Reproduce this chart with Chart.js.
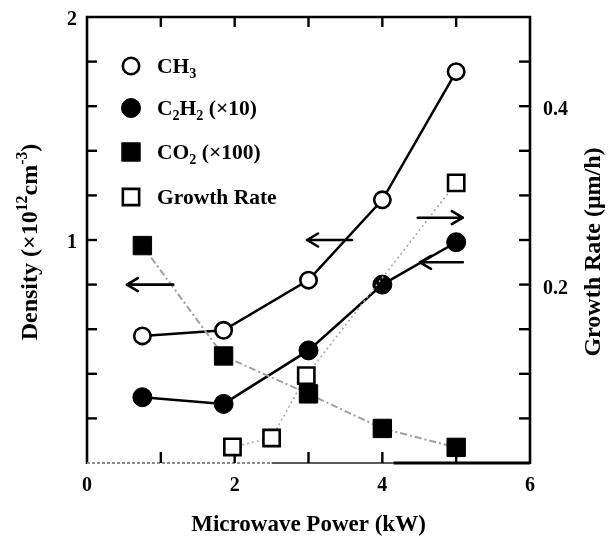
<!DOCTYPE html>
<html>
<head>
<meta charset="utf-8">
<script src="https://cdn.jsdelivr.net/npm/chart.js@4.4.0/dist/chart.umd.min.js"></script>
<style>
  html, body { margin: 0; padding: 0; background: #fff; }
  canvas { display: block; }
</style>
</head>
<body>
<canvas id="chart" width="615" height="538"></canvas>
<script>
// Microwave power (kW) at which the gas densities were measured
const powerKW = [0.75, 1.85, 3.0, 4.0, 5.0];
// Densities in units of 1e12 cm^-3 (C2H2 scaled x10, CO2 scaled x100)
const ch3Density = [0.57, 0.595, 0.82, 1.18, 1.755];
const c2h2Density = [0.295, 0.265, 0.505, 0.80, 0.99];
const co2Density = [0.975, 0.48, 0.31, 0.155, 0.07];
// Diamond growth rate (um/h) versus power
const growthPower = [1.97, 2.5, 2.97, 5.0];
const growthRate = [0.018, 0.028, 0.098, 0.314];
// Labelled ticks on each axis
const xTickLabels = [0, 2, 4, 6];
const densityTickLabels = [1, 2];
const growthTickLabels = [0.2, 0.4];

const SERIF = '"Liberation Serif", "Times New Roman", Times, serif';
const boldFont = size => `bold ${size}px ${SERIF}`;

const toPoints = (xs, ys) => ys.map((v, i) => ({ x: xs[i], y: v }));

// Text with sub/superscript runs: parts = [[text, mode]], mode 1 = sup, -1 = sub
function drawRich(ctx, parts, x, y, size, align) {
  ctx.textBaseline = 'alphabetic';
  ctx.textAlign = 'left';
  const small = size * 0.66;
  const widths = parts.map(([t, m]) => {
    ctx.font = boldFont(m ? small : size);
    return ctx.measureText(t).width;
  });
  const total = widths.reduce((a, b) => a + b, 0);
  let cx = align === 'center' ? x - total / 2 : x;
  const base = y + size * 0.33;
  parts.forEach(([t, m], i) => {
    ctx.font = boldFont(m ? small : size);
    const dy = m === 1 ? -size * 0.40 : m === -1 ? size * 0.24 : 0;
    ctx.fillText(t, cx, base + dy);
    cx += widths[i];
  });
}

const datasets = [
  {
    label: 'CO2 (x100)',
    data: toPoints(powerKW, co2Density),
    yAxisID: 'y',
    showLine: true,
    borderColor: '#a0a0a0',
    borderWidth: 2,
    borderDash: [7, 3, 2, 3],
    pointStyle: 'rect',
    pointRadius: 13,
    pointBackgroundColor: '#000',
    pointBorderColor: '#000',
    pointBorderWidth: 1
  },
  {
    label: 'Growth Rate',
    data: toPoints(growthPower, growthRate),
    yAxisID: 'y2',
    showLine: true,
    borderColor: '#a8a8a8',
    borderWidth: 1.6,
    borderDash: [2, 3],
    pointStyle: 'rect',
    pointRadius: 11.5,
    pointBackgroundColor: '#fff',
    pointBorderColor: '#000',
    pointBorderWidth: 2.6
  },
  {
    label: 'C2H2 (x10)',
    data: toPoints(powerKW, c2h2Density),
    yAxisID: 'y',
    showLine: true,
    borderColor: '#000',
    borderWidth: 2.5,
    pointStyle: 'circle',
    pointRadius: 9.5,
    pointBackgroundColor: '#000',
    pointBorderColor: '#000',
    pointBorderWidth: 1
  },
  {
    label: 'CH3',
    data: toPoints(powerKW, ch3Density),
    yAxisID: 'y',
    showLine: true,
    borderColor: '#000',
    borderWidth: 2.5,
    pointStyle: 'circle',
    pointRadius: 8.2,
    pointBackgroundColor: '#fff',
    pointBorderColor: '#000',
    pointBorderWidth: 2.6
  }
];

// Legend entries: dataset index and rich-text label
const legendEntries = [
  { ds: 3, parts: [['CH', 0], ['3', -1]] },
  { ds: 2, parts: [['C', 0], ['2', -1], ['H', 0], ['2', -1], [' (\u00d710)', 0]] },
  { ds: 0, parts: [['CO', 0], ['2', -1], [' (\u00d7100)', 0]] },
  { ds: 1, parts: [['Growth Rate', 0]] }
];

// Arrows pointing to each curve's axis: [xStart, xEnd, density level]; head at xEnd
const arrowMarks = [
  [1.17, 0.54, 0.80],
  [3.59, 2.98, 1.00],
  [4.48, 5.09, 1.10],
  [5.09, 4.51, 0.90]
];

const framePlugin = {
  id: 'frame',
  beforeDatasetsDraw(chart) {
    const { ctx, chartArea: a, scales: { x, y, y2 } } = chart;
    const seg = (x1, y1, x2, y2_) => { ctx.beginPath(); ctx.moveTo(x1, y1); ctx.lineTo(x2, y2_); ctx.stroke(); };
    ctx.save();
    ctx.strokeStyle = '#000';
    ctx.lineWidth = 2.6;
    ctx.beginPath();
    ctx.moveTo(a.left, a.bottom + 1);
    ctx.lineTo(a.left, a.top);
    ctx.lineTo(a.right, a.top);
    ctx.lineTo(a.right, a.bottom + 1);
    ctx.stroke();

    // bottom edge: faint on the left, solid toward the right
    const xb1 = x.getPixelForValue(2.5), xb2 = x.getPixelForValue(4.15);
    ctx.strokeStyle = '#8c8c8c';
    ctx.lineWidth = 2.2;
    ctx.setLineDash([3, 2]);
    seg(a.left, a.bottom, xb1, a.bottom);
    ctx.setLineDash([]);
    ctx.strokeStyle = '#5a5a5a';
    seg(xb1, a.bottom, xb2, a.bottom);
    ctx.strokeStyle = '#000';
    ctx.lineWidth = 3;
    seg(xb2, a.bottom, a.right, a.bottom);

    // inward ticks
    ctx.strokeStyle = '#000';
    ctx.lineWidth = 2.4;
    for (let v = 1; v <= 5; v++) {
      const px = x.getPixelForValue(v);
      seg(px, a.top, px, a.top + 10);
      seg(px, a.bottom, px, a.bottom - 11);
    }
    for (let k = 1; k < 10; k++) {
      const py = y.getPixelForValue(k * 0.2);
      seg(a.left, py, a.left + 10, py);
    }
    for (let k = 1; k < 10; k++) {
      const py = y2.getPixelForValue(k * 0.05);
      seg(a.right, py, a.right - 11, py);
    }
    ctx.restore();
  },
  afterDatasetsDraw(chart) {
    const { ctx, scales: { x, y } } = chart;
    ctx.save();
    ctx.strokeStyle = '#000';
    ctx.lineWidth = 2.6;
    ctx.lineCap = 'round';
    ctx.lineJoin = 'round';
    arrowMarks.forEach(([x0, x1, v]) => {
      const p0 = x.getPixelForValue(x0), p1 = x.getPixelForValue(x1), py = y.getPixelForValue(v);
      const dir = Math.sign(p1 - p0);
      ctx.beginPath();
      ctx.moveTo(p0, py);
      ctx.lineTo(p1, py);
      ctx.moveTo(p1 - dir * 11, py - 6.5);
      ctx.lineTo(p1, py);
      ctx.lineTo(p1 - dir * 11, py + 6.5);
      ctx.stroke();
    });
    ctx.restore();
  },
  afterDraw(chart) {
    const { ctx, chartArea: a } = chart;
    ctx.save();
    ctx.fillStyle = '#000';

    // legend
    const lx = 131, ltx = 157;
    const ly = [66, 108, 152, 197];
    legendEntries.forEach((e, i) => {
      const ds = chart.data.datasets[e.ds];
      ctx.save();
      ctx.fillStyle = ds.pointBackgroundColor;
      ctx.strokeStyle = ds.pointBorderColor;
      ctx.lineWidth = ds.pointBorderWidth;
      Chart.helpers.drawPoint(ctx, {
        pointStyle: ds.pointStyle,
        radius: ds.pointRadius,
        rotation: 0,
        borderWidth: ds.pointBorderWidth
      }, lx, ly[i]);
      ctx.restore();
      ctx.fillStyle = '#000';
      drawRich(ctx, e.parts, ltx, ly[i], 21.5, 'left');
    });

    // axis titles
    drawRich(ctx, [['Microwave Power (kW)', 0]], (a.left + a.right) / 2, 523, 23, 'center');

    ctx.save();
    ctx.translate(29, 242);
    ctx.rotate(-Math.PI / 2);
    drawRich(ctx, [['Density (\u00d710', 0], ['12', 1], ['cm', 0], ['-3', 1], [')', 0]], 0, 0, 24, 'center');
    ctx.restore();

    ctx.save();
    ctx.translate(592, 252);
    ctx.rotate(-Math.PI / 2);
    drawRich(ctx, [['Growth Rate (\u03bcm/h)', 0]], 0, 0, 24, 'center');
    ctx.restore();

    ctx.restore();
  }
};

const fixedTicks = values => scale => { scale.ticks = values.map(v => ({ value: v })); };
const tickFont = { family: SERIF, size: 20, weight: 'bold' };

new Chart(document.getElementById('chart'), {
  type: 'scatter',
  data: { datasets },
  plugins: [framePlugin],
  options: {
    responsive: false,
    animation: false,
    events: [],
    layout: { padding: { top: 15, left: 0, right: 0, bottom: 0 } },
    plugins: { legend: { display: false }, tooltip: { enabled: false } },
    scales: {
      x: {
        type: 'linear',
        min: 0, max: 6,
        afterBuildTicks: fixedTicks(xTickLabels),
        afterFit: s => { s.height = 75; },
        grid: { display: false },
        border: { display: false },
        ticks: { padding: 3, color: '#000', font: tickFont }
      },
      y: {
        type: 'linear',
        position: 'left',
        min: 0, max: 2,
        afterBuildTicks: fixedTicks(densityTickLabels),
        afterFit: s => { s.width = 87; },
        grid: { display: false },
        border: { display: false },
        ticks: { padding: 2, labelOffset: 3, color: '#000', font: tickFont }
      },
      y2: {
        type: 'linear',
        position: 'right',
        min: 0, max: 0.5,
        afterBuildTicks: fixedTicks(growthTickLabels),
        afterFit: s => { s.width = 85; },
        grid: { display: false },
        border: { display: false },
        ticks: { padding: 5, labelOffset: 4, color: '#000', font: tickFont,
                 callback: v => v.toFixed(1) }
      }
    }
  }
});
</script>
</body>
</html>
